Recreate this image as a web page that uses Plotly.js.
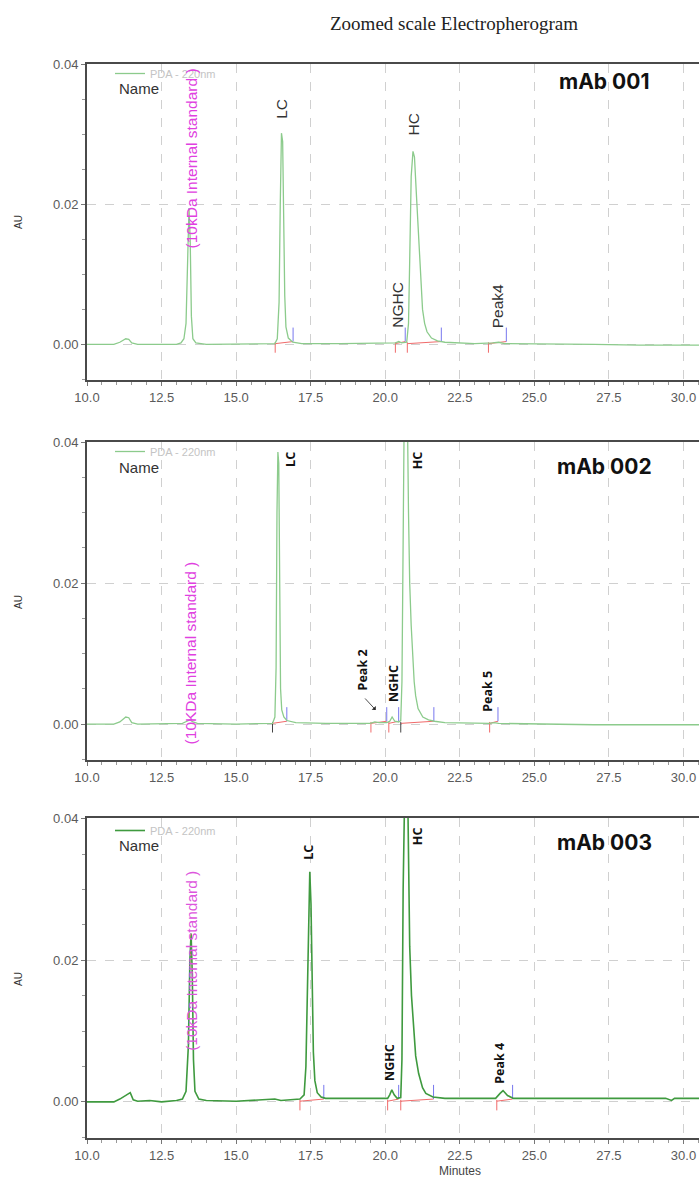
<!DOCTYPE html>
<html>
<head>
<meta charset="utf-8">
<script src="https://cdn.plot.ly/plotly-3.0.1.min.js"></script>
<style>html,body{margin:0;padding:0;background:#fff;}#chart{width:699px;height:1178px;}</style>
</head>
<body>
<div id="chart"></div>
<script>
// ---------------- DATA ----------------
// Panel 1: mAb 001 (time in minutes, absorbance in AU)
const p1x = [10.0,10.5,10.9,11.1,11.3,11.4,11.5,11.7,12.5,13.0,13.15,13.25,13.32,13.37,13.42,13.46,13.50,13.55,13.65,14.0,15.0,16.0,
  16.30,16.38,16.44,16.48,16.52,16.56,16.60,16.63,16.67,16.75,16.90,17.2,18.5,20.0,20.35,20.45,20.55,
  20.72,20.78,20.82,20.87,20.93,20.98,21.05,21.12,21.18,21.25,21.32,21.40,21.55,21.75,22.0,23.0,23.6,23.8,24.0,25.0,27.0,28.5,30.52];
const p1y = [0.0000,0.0000,0.0000,0.0003,0.0008,0.0007,0.0002,0.0000,0.0000,0.0000,0.0002,0.0008,0.0030,0.0120,0.0195,0.0150,0.0040,0.0008,0.0002,0.0000,0.0000,0.0000,
  0.0001,0.0008,0.0060,0.0200,0.0302,0.0290,0.0150,0.0070,0.0025,0.0009,0.0003,0.0001,0.0001,0.0001,0.0002,0.0004,0.0002,
  0.0003,0.0030,0.0120,0.0240,0.0276,0.0268,0.0210,0.0150,0.0090,0.0050,0.0030,0.0018,0.0009,0.0005,0.0003,0.0001,0.0002,0.0003,0.0001,0.0001,0.0000,-0.0001,-0.0001];
const p1Starts = [16.31, 20.34, 20.74, 23.46];
const p1Ends   = [16.91, 20.67, 21.88, 24.06];

// Panel 2: mAb 002
const p2x = [10.0,10.9,11.1,11.3,11.4,11.5,11.7,12.5,13.2,13.35,13.45,13.55,13.7,15.0,16.0,
  16.22,16.30,16.34,16.37,16.40,16.43,16.46,16.49,16.53,16.60,16.70,17.0,18.0,19.5,19.65,19.8,20.05,20.15,20.23,20.32,20.45,
  20.52,20.56,20.60,20.64,20.69,20.74,20.78,20.82,20.87,20.92,20.97,21.02,21.10,21.26,21.45,21.65,22.0,23.5,23.65,23.8,25.0,27.0,30.52];
const p2y = [0.0000,0.0000,0.0003,0.0010,0.0009,0.0002,0.0000,0.0000,0.0001,0.0004,0.0006,0.0003,0.0001,0.0000,0.0000,
  0.0001,0.0010,0.0080,0.0300,0.0386,0.0370,0.0150,0.0050,0.0020,0.0010,0.0005,0.0002,0.0001,0.0001,0.0003,0.0002,0.0002,0.0004,0.0010,0.0004,0.0003,
  0.0005,0.0060,0.0300,0.0460,0.0520,0.0450,0.0300,0.0200,0.0140,0.0100,0.0060,0.0040,0.0022,0.0010,0.0006,0.0004,0.0002,0.0001,0.0002,0.0001,0.0000,-0.0001,-0.0001];
const p2Starts = [19.52, 20.12, 23.50];
const p2StartsDark = [16.22, 20.52];
const p2Ends   = [16.70, 20.05, 20.45, 21.63, 23.78];
const p2Segments = [[16.22,16.70],[19.52,20.05],[20.12,20.45],[20.52,21.63],[23.50,23.78]];

// Panel 3: mAb 003
const p3x = [10.0,10.9,11.1,11.3,11.45,11.55,11.7,12.1,12.5,13.0,13.2,13.32,13.40,13.45,13.49,13.53,13.57,13.62,13.75,14.0,15.0,16.3,16.5,
  17.14,17.28,17.34,17.39,17.44,17.47,17.51,17.55,17.59,17.64,17.72,17.85,18.0,19.0,20.08,20.15,20.22,20.30,20.40,
  20.52,20.56,20.60,20.64,20.69,20.74,20.79,20.82,20.88,20.95,21.02,21.12,21.25,21.36,21.6,22.0,23.7,23.85,23.95,24.1,24.3,26.0,29.4,29.6,29.7,30.52];
const p3y = [0.0000,0.0000,0.0004,0.0009,0.0013,0.0003,0.0001,0.0002,0.0000,0.0002,0.0004,0.0015,0.0080,0.0200,0.0238,0.0180,0.0060,0.0015,0.0004,0.0002,0.0001,0.0004,0.0002,
  0.0004,0.0010,0.0050,0.0180,0.0310,0.0325,0.0280,0.0160,0.0070,0.0030,0.0013,0.0007,0.0005,0.0005,0.0005,0.0010,0.0017,0.0010,0.0005,
  0.0006,0.0060,0.0300,0.0470,0.0540,0.0480,0.0300,0.0220,0.0150,0.0100,0.0065,0.0040,0.0020,0.0012,0.0007,0.0005,0.0005,0.0012,0.0016,0.0009,0.0005,0.0005,0.0005,0.0002,0.0005,0.0005];
const p3Starts = [17.14, 20.08, 20.52, 23.74];
const p3Ends   = [17.94, 20.45, 21.62, 24.27];

const panelNames = ["mAb 001", "mAb 002", "mAb 003"];
const traceName = "PDA - 220nm";

// ---------------- HELPERS ----------------
const RED = '#f06a6a', BLUE = '#7777ee', DARK = '#444';
function ticks(xs, y0, y1) {
  const x = [], y = [];
  xs.forEach(v => { x.push(v, v, null); y.push(y0, y1, null); });
  return {x, y};
}
function segs(pairs) {
  const x = [], y = [];
  pairs.forEach(p => { x.push(p[0], p[1], null); y.push(0.0001, 0.0004, null); });
  return {x, y};
}
function zip(a, b) { return a.map((v, i) => [v, b[i]]); }

const traces = [];
function addPanel(k, xs, ys, color, width, starts, ends, pairs, darkStarts) {
  const xa = k === 1 ? 'x' : 'x' + k, ya = k === 1 ? 'y' : 'y' + k;
  const leg = k === 1 ? 'legend' : 'legend' + k;
  const b = segs(pairs);
  traces.push({x: b.x, y: b.y, xaxis: xa, yaxis: ya, mode: 'lines', line: {color: RED, width: 1}, showlegend: false, hoverinfo: 'skip'});
  const s = ticks(starts, 0.0003, -0.0012);
  traces.push({x: s.x, y: s.y, xaxis: xa, yaxis: ya, mode: 'lines', line: {color: RED, width: 1}, showlegend: false, hoverinfo: 'skip'});
  if (darkStarts) {
    const d = ticks(darkStarts, 0.0003, -0.0012);
    traces.push({x: d.x, y: d.y, xaxis: xa, yaxis: ya, mode: 'lines', line: {color: DARK, width: 1}, showlegend: false, hoverinfo: 'skip'});
  }
  const e = ticks(ends, 0.0004, 0.0024);
  traces.push({x: e.x, y: e.y, xaxis: xa, yaxis: ya, mode: 'lines', line: {color: BLUE, width: 1}, showlegend: false, hoverinfo: 'skip'});
  traces.push({x: xs, y: ys, xaxis: xa, yaxis: ya, mode: 'lines', name: traceName, legend: leg,
    line: {color: color, width: width}, showlegend: true});
}
addPanel(1, p1x, p1y, '#8ccb8c', 1.3, p1Starts, p1Ends, zip(p1Starts, p1Ends));
addPanel(2, p2x, p2y, '#8ccb8c', 1.3, p2Starts, p2Ends, p2Segments, p2StartsDark);
addPanel(3, p3x, p3y, '#3f9a3f', 1.6, p3Starts, p3Ends, zip(p3Starts, p3Ends));

// ---------------- LAYOUT ----------------
const H = 1178;
const py = v => 1 - v / H;          // pixel row -> paper y
const L = 87, W = 699 - 87;
const pxp = v => (v - L) / W;       // pixel col -> paper x

const tickFont = {family: 'Liberation Sans, Arial, sans-serif', size: 13, color: '#5a5a5a'};
function xax(anchor) {
  return {anchor: anchor, domain: [0, 1], range: [10, 30.52], tick0: 10, dtick: 2.5, tickformat: '.1f',
    showline: true, linecolor: '#4a4a4a', linewidth: 2, mirror: true,
    ticks: 'outside', ticklen: 4, tickcolor: '#777', tickfont: tickFont,
    minor: {dtick: 0.5, ticks: 'outside', ticklen: 3, tickcolor: '#999', showgrid: false},
    showgrid: true, gridcolor: '#d0d0d0', griddash: 'dash', gridwidth: 1, zeroline: false, fixedrange: true};
}
function yax(anchor, d) {
  return {anchor: anchor, domain: d, range: [-0.0051, 0.0401], tick0: 0, dtick: 0.02, tickformat: '.2f',
    showline: true, linecolor: '#4a4a4a', linewidth: 2, mirror: false,
    ticks: 'outside', ticklen: 4, tickcolor: '#777', tickfont: tickFont,
    minor: {dtick: 0.005, ticks: 'outside', ticklen: 3, tickcolor: '#999', showgrid: false},
    showgrid: true, gridcolor: '#d0d0d0', griddash: 'dash', gridwidth: 1, zeroline: false, fixedrange: true};
}
function legendAt(top) {
  return {x: pxp(110), xanchor: 'left', y: py(top), yanchor: 'top', bgcolor: 'rgba(0,0,0,0)',
    borderwidth: 0, itemwidth: 30, font: {family: 'Liberation Sans, Arial, sans-serif', size: 11, color: '#c4c4c4'}};
}

const ann = [];
const mag = {family: 'Liberation Sans, Arial, sans-serif', size: 15.5, color: '#e040e0'};
const grayLbl = {family: 'Liberation Sans, Arial, sans-serif', size: 15.5, color: '#333'};
const boldLbl = {family: 'Open Sans, Liberation Sans, sans-serif', size: 12.5, color: '#111', weight: 700};
function lbl(xr, yr, x, y, text, font) {
  ann.push({xref: xr, yref: yr, x: x, y: y, text: text, textangle: -90, showarrow: false, font: font, xanchor: 'center', yanchor: 'middle'});
}
// title
ann.push({xref: 'paper', yref: 'paper', x: pxp(454), y: py(23), text: 'Zoomed scale Electropherogram', showarrow: false,
  font: {family: 'Liberation Serif, Times New Roman, serif', size: 19, color: '#222'}, xanchor: 'center', yanchor: 'middle'});
// per-panel decorations
[[82, 89, 222], [466, 467, 602], [842, 845, 979]].forEach((r, i) => {
  ann.push({xref: 'paper', yref: 'paper', x: pxp(604), y: py(r[0]), text: '<b>' + panelNames[i] + '</b>', showarrow: false,
    font: {family: 'Inter, Lato, sans-serif', size: 21, color: '#111', weight: 800}, xanchor: 'center', yanchor: 'middle'});
  ann.push({xref: 'paper', yref: 'paper', x: pxp(117), y: py(r[1]), text: 'Name', showarrow: false,
    font: {family: 'Liberation Sans, Arial, sans-serif', size: 15, color: '#333'}, xanchor: 'left', yanchor: 'middle'});
  ann.push({xref: 'paper', yref: 'paper', x: pxp(18), y: py(r[2]), text: 'AU', textangle: -90, showarrow: false,
    font: {family: 'Liberation Sans, Arial, sans-serif', size: 10, color: '#333'}, xanchor: 'center', yanchor: 'middle'});
});
// panel 1 labels
lbl('x', 'y', 13.49, 0.0266, '(10kDa Internal standard )', mag);
lbl('x', 'y', 16.54, 0.0337, 'LC', grayLbl);
lbl('x', 'y', 20.94, 0.0315, 'HC', grayLbl);
lbl('x', 'y', 20.40, 0.0057, 'NGHC', grayLbl);
lbl('x', 'y', 23.76, 0.0055, 'Peak4', grayLbl);
// panel 2 labels
lbl('x2', 'y2', 13.47, 0.0101, '(10KDa Internal standard )', mag);
lbl('x2', 'y2', 16.80, 0.0376, 'LC', boldLbl);
lbl('x2', 'y2', 21.09, 0.0374, 'HC', boldLbl);
lbl('x2', 'y2', 19.24, 0.0077, 'Peak 2', boldLbl);
lbl('x2', 'y2', 20.25, 0.0058, 'NGHC', boldLbl);
lbl('x2', 'y2', 23.44, 0.0047, 'Peak 5', boldLbl);
ann.push({xref: 'x2', yref: 'y2', x: 19.68, y: 0.0020, ax: -12, ay: -13, text: '', showarrow: true,
  arrowhead: 1, arrowsize: 1.2, arrowwidth: 0.8, arrowcolor: '#222'});
// panel 3 labels
lbl('x3', 'y3', 13.48, 0.0199, '(10kDa Internal standard )', {family: 'Liberation Sans, Arial, sans-serif', size: 15.5, color: '#dd55dd'});
lbl('x3', 'y3', 17.44, 0.0353, 'LC', boldLbl);
lbl('x3', 'y3', 21.09, 0.0375, 'HC', boldLbl);
lbl('x3', 'y3', 20.15, 0.0056, 'NGHC', boldLbl);
lbl('x3', 'y3', 23.84, 0.0055, 'Peak 4', boldLbl);
// x-axis title
ann.push({xref: 'x3', yref: 'paper', x: 22.5, y: py(1171), text: 'Minutes', showarrow: false,
  font: {family: 'Liberation Sans, Arial, sans-serif', size: 12, color: '#444'}, xanchor: 'center', yanchor: 'middle'});

const layout = {
  width: 699, height: 1178,
  margin: {l: L, r: 0, t: 0, b: 0},
  paper_bgcolor: '#fff', plot_bgcolor: '#fff',
  xaxis: xax('y'), yaxis: yax('x', [py(380), py(64)]),
  xaxis2: xax('y2'), yaxis2: yax('x2', [py(760), py(441.5)]),
  xaxis3: xax('y3'), yaxis3: yax('x3', [py(1138), py(818)]),
  legend: legendAt(59), legend2: legendAt(437), legend3: legendAt(816),
  annotations: ann,
  hovermode: false
};

Plotly.newPlot('chart', traces, layout, {displayModeBar: false, staticPlot: true});
</script>
</body>
</html>
